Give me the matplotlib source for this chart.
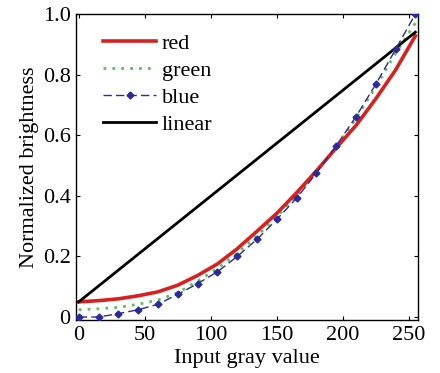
import matplotlib
matplotlib.use("Agg")
import matplotlib.pyplot as plt

# Data
red_x = [0, 15, 30, 45, 60, 75, 90, 105, 120, 135, 150, 165, 180, 195, 210, 225, 240, 255]
red_y = [0.05, 0.054, 0.06, 0.07, 0.083, 0.105, 0.137, 0.175, 0.225, 0.283, 0.342,
         0.41, 0.482, 0.558, 0.632, 0.72, 0.815, 0.928]

green_x = [0, 15, 30, 45, 60, 75, 90, 105, 120, 135, 150, 165, 180, 195, 210, 225, 240, 255]
green_y = [0.024, 0.027, 0.032, 0.042, 0.056, 0.08, 0.118, 0.16, 0.21, 0.268, 0.33,
           0.40, 0.478, 0.562, 0.655, 0.76, 0.87, 0.97]

blue_x = [0, 15, 30, 45, 60, 75, 90, 105, 120, 135, 150, 165, 180, 195, 210, 225, 240, 255]
blue_y = [0.0, 0.0, 0.011, 0.024, 0.042, 0.075, 0.110, 0.149, 0.200, 0.256, 0.322,
          0.392, 0.475, 0.565, 0.661, 0.768, 0.883, 1.0]

linear_x = [0, 255]
linear_y = [0.05, 0.94]

xticks = [0, 50, 100, 150, 200, 250]
yticks = [0, 0.2, 0.4, 0.6, 0.8, 1.0]
yticklabels = ["0", "0.2", "0.4", "0.6", "0.8", "1.0"]

plt.rcParams['font.family'] = ['Liberation Serif', 'DejaVu Serif']

fig = plt.figure(figsize=(4.4, 3.73), dpi=100)
ax = fig.add_axes([0.173, 0.142, 0.777, 0.8205])

ax.plot(red_x, red_y, color='#d92020', lw=2.6, label='red', zorder=3)
ax.plot(green_x, green_y, color='#5cc05c', lw=2.0, ls=(0, (1, 2.2)), label='green', zorder=2)
ax.plot(blue_x, blue_y, color='#2a2a9a', lw=1.0, ls=(0, (6, 3)), marker='D', ms=3.5,
        label='blue', zorder=4)
ax.plot(linear_x, linear_y, color='black', lw=2.0, label='linear', zorder=3)

ax.set_xlim(-2, 257)
ax.set_ylim(-0.01, 1.0)
ax.set_xticks(xticks)
ax.set_yticks(yticks)
ax.set_yticklabels(yticklabels)
ax.tick_params(direction='in', length=3, width=0.8, top=True, right=True, labelsize=16, pad=4)
for s in ax.spines.values():
    s.set_linewidth(1.0)

ax.set_xlabel('Input gray value', fontsize=16, labelpad=3)
ax.set_ylabel('Normalized brightness', fontsize=16, labelpad=3)

ax.legend(loc='upper left', frameon=False, fontsize=16, handlelength=2.4,
          handletextpad=0.25, labelspacing=0.3, borderaxespad=0.0,
          bbox_to_anchor=(0.053, 0.967))

fig.savefig('out.png', dpi=100)
